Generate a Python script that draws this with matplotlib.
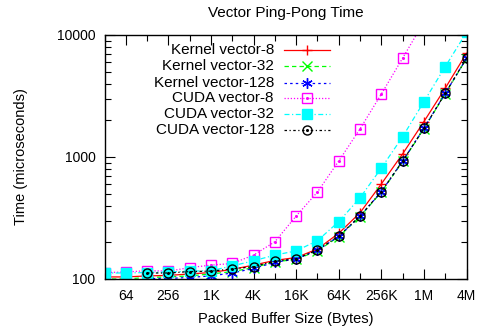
import matplotlib
matplotlib.use("Agg")
import matplotlib.pyplot as plt
from matplotlib.ticker import FixedLocator, NullFormatter
import numpy as np

plt.rcParams["font.family"] = ["Liberation Sans", "DejaVu Sans"]
plt.rcParams["font.size"] = 10

# packed buffer sizes (bytes), powers of two from 32 to 4M
SIZES = [2 ** k for k in range(5, 23)]
SIZES_128 = [2 ** k for k in range(7, 23)]

KERNEL_8 = [104, 104, 106, 107, 110, 113, 120, 130, 142, 150, 176, 237, 349,
            601, 1060, 1950, 3660, 7080]
KERNEL_32 = [100, 100, 103, 104, 106, 110, 115, 124, 138, 145, 170, 222, 325,
             515, 920, 1700, 3300, 6400]
KERNEL_128 = [101, 101, 103, 106, 112, 122, 137, 146, 172, 224, 327, 520, 925,
              1720, 3320, 6450]
CUDA_8 = [113, 114, 117, 116, 124, 130, 134, 157, 202, 328, 516, 927, 1700,
          3280, 6460, 12800, 25600, 51000]
CUDA_32 = [112, 112, 113, 114, 116, 117, 128, 141, 157, 170, 206, 295, 463,
           811, 1466, 2840, 5500, 10500]
CUDA_128 = [112, 112, 115, 116, 121, 126, 140, 146, 173, 225, 328, 520, 927,
            1718, 3330, 6450]

XTICKS = [64, 256, 1024, 4096, 16384, 65536, 262144, 1048576, 4194304]
XTICKLABELS = ["64", "256", "1K", "4K", "16K", "64K", "256K", "1M", "4M"]

SERIES = [
    ("Kernel vector-8", SIZES, KERNEL_8,
     dict(color="#ff0000", ls="-", marker="+", ms=7.5, mew=1.0)),
    ("Kernel vector-32", SIZES, KERNEL_32,
     dict(color="#00ff00", ls=(0, (3.5, 2.5)), marker="x", ms=6.5, mew=1.0)),
    ("Kernel vector-128", SIZES_128, KERNEL_128,
     dict(color="#0000ff", ls=(0, (2, 2.5)), marker=(6, 2, 0), ms=7.5, mew=1.0)),
    ("CUDA vector-8", SIZES, CUDA_8,
     dict(color="#ff00ff", ls=(0, (1, 1.5)), marker="s", ms=6.5, mfc="none", mew=1.0)),
    ("CUDA vector-32", SIZES, CUDA_32,
     dict(color="#00ffff", ls=(0, (4, 2, 1, 2)), marker="s", ms=6.5, mew=1.0)),
    ("CUDA vector-128", SIZES_128, CUDA_128,
     dict(color="#000000", ls=(0, (2, 2, 1, 2)), marker="o", ms=6.5, mfc="none", mew=1.0)),
]

fig = plt.figure(figsize=(4.82, 3.31), dpi=100)
ax = fig.add_axes([104.5 / 482, 1 - 279 / 331, 362 / 482, 244 / 331])

for label, xs, ys, st in SERIES:
    ax.plot(xs, ys, lw=0.9, **st)
    if st.get("mfc") == "none":
        # gnuplot-style centre dot on open markers
        ax.plot(xs, ys, ls="none", marker="o", ms=1.2, color=st["color"])

ax.set_xscale("log", base=2)
ax.set_yscale("log")
ax.set_xlim(32, 4194304)
ax.set_ylim(100, 10000)

ax.xaxis.set_major_locator(FixedLocator(XTICKS))
ax.set_xticklabels(XTICKLABELS)
ax.xaxis.set_minor_locator(FixedLocator([2 ** k for k in range(5, 23, 2)]))
ax.xaxis.set_minor_formatter(NullFormatter())
ax.yaxis.set_major_locator(FixedLocator([100, 1000, 10000]))
ax.set_yticklabels(["100", "1000", "10000"])
ax.yaxis.set_minor_locator(FixedLocator([m * d for d in (100, 1000) for m in range(2, 10)]))
ax.yaxis.set_minor_formatter(NullFormatter())

ax.tick_params(which="both", direction="in", top=True, right=True, width=0.8,
               labelsize=10)
ax.tick_params(axis="y", pad=6.5)
ax.tick_params(axis="x", pad=7)
ax.tick_params(which="major", length=7)
ax.tick_params(which="minor", length=4)
for sp in ax.spines.values():
    sp.set_linewidth(1.0)

# pixel -> axes-fraction helper (axes spans x 104.5..466.5, y 35..279 px)
to_ax = lambda px, py: ((px - 104.5) / 362, (279 - py) / 244)

ax.text(0.5, to_ax(0, 13)[1], "Vector Ping-Pong Time", fontsize=11,
        ha="center", va="center", transform=ax.transAxes)
ax.set_xlabel("Packed Buffer Size (Bytes)", fontsize=10.5)
ax.set_ylabel("Time (microseconds)", fontsize=10.5)
ax.xaxis.set_label_coords(0.5, to_ax(0, 319)[1])
ax.xaxis.label.set_va("center")
ax.yaxis.set_label_coords(to_ax(21, 0)[0], 0.5)
ax.yaxis.label.set_va("center")

# gnuplot-style key: right-aligned text, sample line to the right
x_text, x0, x1 = 274, 284, 330
rows_y = [50.3, 66, 82.7, 98, 113.7, 130.3]
for (label, xs, ys, st), py in zip(SERIES, rows_y):
    tx, ty = to_ax(x_text, py)
    ax.text(tx, ty, label, ha="right", va="center", fontsize=11,
            transform=ax.transAxes)
    a0, _ = to_ax(x0, py)
    a1, _ = to_ax(x1, py)
    am, _ = to_ax((x0 + x1) / 2, py)
    line_st = {k: v for k, v in st.items() if k not in ("marker", "ms", "mfc", "mew")}
    ax.plot([a0, a1], [ty, ty], lw=0.9, transform=ax.transAxes, clip_on=False,
            **line_st)
    ax.plot([am], [ty], ls="none", transform=ax.transAxes, clip_on=False,
            color=st["color"], marker=st["marker"], ms=st["ms"],
            mfc=st.get("mfc", st["color"]), mew=st["mew"])
    if st.get("mfc") == "none":
        ax.plot([am], [ty], ls="none", marker="o", ms=1.2, color=st["color"],
                transform=ax.transAxes)

fig.savefig("out.png", dpi=100)
